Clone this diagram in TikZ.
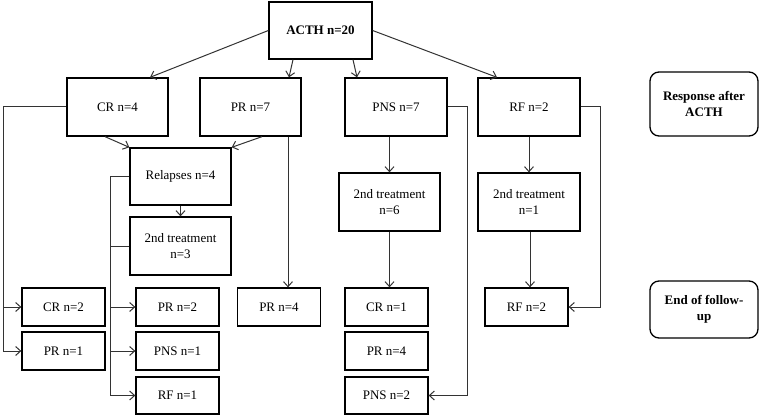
\documentclass[tikz,border=0pt]{standalone}
\usepackage{fontspec}
\setmainfont{Liberation Serif}
\usetikzlibrary{positioning,arrows.meta}

\newcommand{\boxfont}{\fontsize{13}{16}\selectfont}

\tikzset{
  box/.style={draw, line width=1.3pt, minimum width=101pt, minimum height=58pt, align=center, inner sep=2pt, font=\boxfont},
  small/.style={box, minimum width=83pt, minimum height=38pt},
  legend/.style={box, rounded corners=9pt, minimum width=108pt, font=\boxfont\bfseries},
  link/.style={draw=black!80, line width=1pt},
  >={Straight Barb[length=5pt,width=9pt]}
}

\begin{document}
\begin{tikzpicture}[x=1pt, y=-1pt]
    \useasboundingbox (0,0) rectangle (760,417);
    % Nodes
    \node[box, minimum width=103pt, minimum height=57pt, font=\boxfont\bfseries] (acth) at (320.5,30.5) {ACTH n=20};
    \node[box] (cr) at (117.5,107) {CR n=4};
    \node[box] (pr) at (250.5,107) {PR n=7};
    \node[box, minimum width=102pt] (pns) at (396,107) {PNS n=7};
    \node[box, minimum width=102pt] (rf) at (529,107) {RF n=2};
    \node[legend, minimum height=64pt] (resp) at (704,104) {Response after\\ACTH};

    \node[box, minimum height=57pt] (relapse) at (180.5,176.5) {Relapses n=4};
    \node[box] (treat3) at (180.5,246) {2nd treatment\\n=3};
    \node[box] (treat6) at (389.5,202) {2nd treatment\\n=6};
    \node[box, minimum width=102pt] (treat1) at (529,202) {2nd treatment\\n=1};

    \node[small] (cr2) at (63.5,307) {CR n=2};
    \node[small] (pr1) at (63.5,351) {PR n=1};
    \node[small] (pr2) at (177.5,307) {PR n=2};
    \node[small] (pns1) at (177.5,351) {PNS n=1};
    \node[small, minimum height=37pt] (rf1) at (177.5,395.5) {RF n=1};
    \node[small] (pr4) at (279,307) {PR n=4};
    \node[small] (cr1) at (386.5,307) {CR n=1};
    \node[small] (pr4b) at (386.5,351) {PR n=4};
    \node[small, minimum height=37pt] (pns2) at (386.5,395.5) {PNS n=2};
    \node[small] (rf2) at (526.5,307) {RF n=2};
    \node[legend, minimum height=57pt] (end) at (704,309.5) {End of follow-\\up};

    % bus lines
    \coordinate (crbus) at (3,107);
    \coordinate (relbus) at (110,176.5);
    \coordinate (pnsbus) at (467,107);
    \coordinate (rfbus) at (600,107);

    % Arrows
    \draw[link, ->] (acth.west) -- ([xshift=32.5pt]cr.north);
    \draw[link, ->] ([xshift=-27.5pt]acth.south) -- ([xshift=38.5pt]pr.north);
    \draw[link, ->] ([xshift=32.5pt]acth.south) -- ([xshift=-39pt]pns.north);
    \draw[link, ->] (acth.east) -- ([xshift=-32pt]rf.north);

    \draw[link, ->] ([xshift=-12.5pt]cr.south) -- (relapse.north west);
    \draw[link, ->] ([xshift=11.5pt]pr.south) -- (relapse.north east);
    \draw[link, ->] ([xshift=37.5pt]pr.south) -- ([xshift=37.5pt]pr.south |- pr4.north);
    \draw[link, ->] (relapse.south) -- (treat3.north);

    \draw[link, ->] (cr.west) -- (crbus) |- (pr1.west);
    \draw[link, ->] (crbus |- cr2.west) -- (cr2.west);

    \draw[link, ->] (relapse.west) -- (relbus) |- (rf1.west);
    \draw[link] (treat3.west) -- (treat3.west -| relbus);
    \draw[link, ->] (pr2.west -| relbus) -- (pr2.west);
    \draw[link, ->] (pns1.west -| relbus) -- (pns1.west);

    \draw[link, ->] (treat6.north |- pns.south) -- (treat6.north);
    \draw[link, ->] (treat6.south) -- (treat6.south |- cr1.north);
    \draw[link, ->] (pns.east) -- (pnsbus) |- (pns2.east);

    \draw[link, ->] (rf.south) -- (treat1.north);
    \draw[link, ->] ([xshift=1pt]treat1.south) -- ([xshift=1pt]treat1.south |- rf2.north);
    \draw[link, ->] (rf.east) -- (rfbus) |- (rf2.east);
\end{tikzpicture}
\end{document}
